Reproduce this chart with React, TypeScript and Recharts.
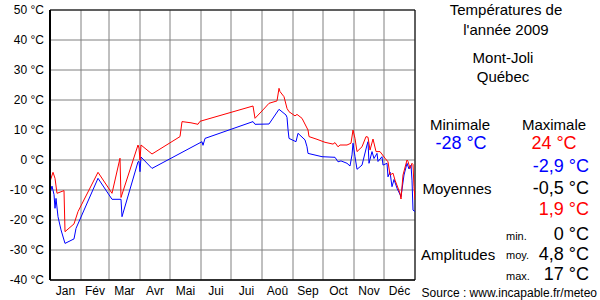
import React from "react";
import { LineChart, Line, XAxis, YAxis, CartesianGrid, ReferenceArea } from "recharts";

const monthStarts = [0, 31, 59, 90, 120, 151, 181, 212, 243, 273, 304, 334, 365];
const monthLabels = ["Jan", "Fév", "Mar", "Avr", "Mai", "Jui", "Jui", "Aoû", "Sep", "Oct", "Nov", "Déc"];
const yTicks = [-40, -30, -20, -10, 0, 10, 20, 30, 40, 50];

const maxDays = [0, 3, 5, 7, 14, 15, 24, 28, 48, 62, 70, 71, 88, 89, 90, 91, 102, 130, 132, 141, 148, 150, 203, 205, 213, 219, 227, 229, 230, 234, 237, 239, 245, 247, 252, 258, 259, 267, 275, 283, 285, 288, 290, 297, 301, 303, 305, 307, 312, 316, 318, 320, 323, 326, 330, 335, 338, 340, 343, 345, 350, 351, 353, 357, 358, 360, 362, 363, 364, 365];
const maxTemps = [-7.2, -4.1, -6.1, -11.1, -10.2, -23.9, -21.3, -17.2, -4.1, -11.1, 0.6, -12.5, 5, 4, 0, 5, 2, 7.8, 12.8, 12.4, 11.9, 12.9, 18, 13.9, 16.7, 18.9, 19.7, 23.9, 22.8, 21.1, 17.2, 16.1, 14.7, 15.2, 13.9, 10, 7.8, 6.9, 5.9, 5.3, 5.8, 4.4, 5, 5, 5.6, 10, 7.2, 2.8, 4.4, 7.8, 7.6, 3.3, 7, 2.8, 2.8, 0.6, -0.6, -5, -4.4, -6.7, -11.1, -13, -5, 0, -0.5, -2.8, -1.1, -1.5, -8.9, -13.3];

const minDays = [0, 2, 4, 5, 6, 8, 11, 15, 24, 26, 48, 62, 71, 72, 88, 89, 90, 91, 102, 152, 153, 155, 203, 205, 219, 229, 236, 237, 238, 239, 246, 248, 255, 257, 258, 272, 285, 288, 291, 297, 300, 302, 303, 305, 307, 312, 317, 318, 319, 322, 324, 327, 328, 332, 333, 337, 338, 340, 342, 344, 347, 351, 354, 357, 359, 361, 362, 363, 365];
const minTemps = [-11.1, -8.7, -11.5, -16.1, -12.8, -18.9, -23.3, -27.8, -26.3, -22.8, -6.1, -13.1, -13.1, -18.9, -0.6, -0.5, -3.9, 1, -2.8, 6.1, 4.9, 7.2, 12.8, 11.9, 12, 16.9, 15, 14.2, 10.2, 7.2, 6.1, 8.9, 6.7, 4.4, 2.2, 1.1, 0.9, -0.6, -0.3, -1.1, -2, 1.7, 5.6, 1.1, -3.1, -1.7, 5, 6.1, -1.1, 2.8, 0.5, 2.2, -0.5, 1.1, -1.7, -1.1, -5.6, -4, -8.9, -6.5, -9.4, -12.2, -5, -1.1, -3, -1.7, -6.7, -16.7, -17.2];

const maxData = maxDays.map((d, i) => ({ day: d, t: maxTemps[i] }));
const minData = minDays.map((d, i) => ({ day: d, t: minTemps[i] }));

const FONT = "'Liberation Sans', Arial, sans-serif";
const PX_PER_DAY = 365 / 365;

const XTick = (props: any) => {
  const { x, payload } = props;
  const i = monthStarts.indexOf(payload.value);
  if (i < 0 || i >= 12) return null;
  const half = ((monthStarts[i + 1] - monthStarts[i]) / 2) * PX_PER_DAY;
  return (
    <text x={x + half} y={295} textAnchor="middle" fontSize={12} fontFamily={FONT} fill="#000">
      {monthLabels[i]}
    </text>
  );
};

const YTick = (props: any) => {
  const { y, payload } = props;
  return (
    <text x={44} y={y + 4} textAnchor="end" fontSize={12} fontFamily={FONT} fill="#000">
      {`${payload.value} °C`}
    </text>
  );
};

const T = (p: { x: number; y: number; anchor?: string; size?: number; color?: string; children: React.ReactNode }) => (
  <text x={p.x} y={p.y} textAnchor={(p.anchor || "middle") as any} fontSize={p.size || 15} fontFamily={FONT} fill={p.color || "#000"}>
    {p.children}
  </text>
);

export default function App() {
  return (
    <div style={{ position: "absolute", left: 0, top: 0, width: 600, height: 300, background: "#fff" }}>
      <LineChart width={600} height={300} data={maxData} margin={{ top: 10, right: 185, bottom: 0, left: 0 }}>
        <CartesianGrid stroke="#808080" strokeWidth={1} />
        <XAxis
          dataKey="day"
          type="number"
          domain={[0, 365]}
          ticks={monthStarts}
          interval={0}
          tick={<XTick />}
          tickLine={false}
          axisLine={{ stroke: "#000" }}
          height={20}
          allowDataOverflow
        />
        <YAxis
          type="number"
          domain={[-40, 50]}
          ticks={yTicks}
          interval={0}
          tick={<YTick />}
          tickLine={false}
          axisLine={{ stroke: "#000", strokeWidth: 2 }}
          width={50}
          allowDataOverflow
        />
        <Line data={minData} dataKey="t" stroke="#0000ff" strokeWidth={1} dot={false} isAnimationActive={false} type="linear" />
        <Line data={maxData} dataKey="t" stroke="#ff0000" strokeWidth={1} dot={false} isAnimationActive={false} type="linear" />
        <ReferenceArea x1={0} x2={365} y1={-40} y2={50} fill="none" stroke="#000" strokeWidth={1} ifOverflow="visible" />
      </LineChart>
      <svg width={600} height={300} style={{ position: "absolute", left: 0, top: 0, pointerEvents: "none" }}>
        <T x={506} y={15}>Températures de</T>
        <T x={506} y={35}>l'année 2009</T>
        <T x={503} y={63}>Mont-Joli</T>
        <T x={503} y={82}>Québec</T>
        <T x={460} y={130}>Minimale</T>
        <T x={554} y={130}>Maximale</T>
        <T x={461} y={149} size={18} color="#0000ff">-28 °C</T>
        <T x={554} y={149} size={18} color="#ff0000">24 °C</T>
        <T x={589} y={172} anchor="end" size={18} color="#0000ff">-2,9 °C</T>
        <T x={457} y={194}>Moyennes</T>
        <T x={589} y={194} anchor="end" size={18}>-0,5 °C</T>
        <T x={589} y={215} anchor="end" size={18} color="#ff0000">1,9 °C</T>
        <T x={506} y={240} anchor="start" size={11}>min.</T>
        <T x={589} y={240} anchor="end" size={18}>0 °C</T>
        <T x={421} y={260} anchor="start">Amplitudes</T>
        <T x={506} y={259} anchor="start" size={11}>moy.</T>
        <T x={589} y={260} anchor="end" size={18}>4,8 °C</T>
        <T x={506} y={280} anchor="start" size={11}>max.</T>
        <T x={589} y={280} anchor="end" size={18}>17 °C</T>
        <T x={597} y={297} anchor="end" size={12}>Source : www.incapable.fr/meteo</T>
      </svg>
    </div>
  );
}
